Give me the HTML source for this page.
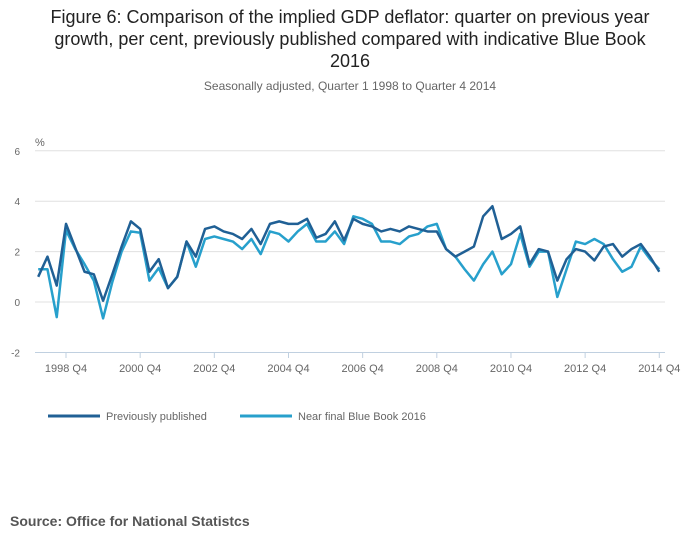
<!DOCTYPE html>
<html><head><meta charset="utf-8"><style>
body{margin:0;background:#fff;width:700px;height:549px;overflow:hidden;font-family:"Liberation Sans",sans-serif}
#title{position:absolute;left:0;top:6px;width:700px;text-align:center;font-size:18px;line-height:22px;color:#222;white-space:nowrap}
#sub{position:absolute;left:0;top:79px;width:700px;text-align:center;font-size:12px;color:#666}
#src{position:absolute;left:10px;top:513px;font-size:14px;font-weight:bold;color:#555}
svg{position:absolute;left:0;top:0}
</style></head><body>
<div id="title">Figure 6: Comparison of the implied GDP deflator: quarter on previous year<br>growth, per cent, previously published compared with indicative Blue Book<br>2016</div>
<div id="sub">Seasonally adjusted, Quarter 1 1998 to Quarter 4 2014</div>
<svg id="chart" width="700" height="549"></svg>
<div id="src">Source: Office for National Statistcs</div>
<script>
const yTicks=[-2,0,2,4,6];
const xTickLabels=["1998 Q4","2000 Q4","2002 Q4","2004 Q4","2006 Q4","2008 Q4","2010 Q4","2012 Q4","2014 Q4"];
const xTickIdx=[3,11,19,27,35,43,51,59,67];
const previous=[1.0,1.8,0.65,3.1, 2.15,1.2,1.1,0.05, 1.1,2.2,3.2,2.9, 1.2,1.7,0.55,1.0, 2.4,1.8,2.9,3.0, 2.8,2.7,2.5,2.9, 2.3,3.1,3.2,3.1, 3.1,3.3,2.55,2.7, 3.2,2.45,3.3,3.1, 3.0,2.8,2.9,2.8, 3.0,2.9,2.8,2.8, 2.1,1.8,2.0,2.2, 3.4,3.8,2.5,2.7, 3.0,1.5,2.1,2.0, 0.85,1.7,2.1,2.0, 1.65,2.2,2.3,1.8, 2.1,2.3,1.8,1.2];
const blueBook=[1.3,1.3,-0.6,2.85, 2.1,1.5,0.85,-0.65, 0.8,2.0,2.8,2.75, 0.85,1.35,0.55,1.0, 2.4,1.4,2.5,2.6, 2.5,2.4,2.1,2.5, 1.9,2.8,2.7,2.4, 2.8,3.1,2.4,2.4, 2.8,2.3,3.4,3.3, 3.1,2.4,2.4,2.3, 2.6,2.7,3.0,3.1, 2.1,1.8,1.3,0.85, 1.5,2.0,1.1,1.5, 2.7,1.4,2.0,2.0, 0.2,1.3,2.4,2.3, 2.5,2.3,1.7,1.2, 1.4,2.2,1.7,1.3];
const NS="http://www.w3.org/2000/svg";
const svg=document.getElementById('chart');
const x=i=>38.2+i*9.27;
const y=v=>302-v*25.2;
function mk(t,a){const e=document.createElementNS(NS,t);for(const k in a)e.setAttribute(k,a[k]);svg.appendChild(e);return e;}
yTicks.forEach(v=>{
 if(v>-2){const g=mk('line',{x1:35,x2:665,y1:y(v),y2:y(v),stroke:'#e0e0e0','stroke-width':1});
 
 }
 const t=mk('text',{x:20,y:y(v)+4,'font-size':10,fill:'#666','text-anchor':'end'});t.textContent=v;
 
 
});
const u=mk('text',{x:35,y:146,'font-size':11,fill:'#666'});u.textContent='%';


const ax=mk('line',{x1:35,x2:665,y1:352.5,y2:352.5,stroke:'#c0d0e0','stroke-width':1});


xTickIdx.forEach((q,k)=>{
 mk('line',{x1:x(q),x2:x(q),y1:352.5,y2:358,stroke:'#c0d0e0'});
 const t=mk('text',{x:x(q),y:372,'font-size':11,fill:'#666','text-anchor':'middle'});t.textContent=xTickLabels[k];
 
 
});
function series(vals,color,name){
 const p=mk('polyline',{points:vals.map((v,i)=>x(i)+','+y(v)).join(' '),fill:'none',stroke:color,'stroke-width':2.5,'stroke-linejoin':'round'});
 
 
}
series(blueBook,'#27a0cc','series-blue-book-2016');
series(previous,'#206095','series-previously-published');
function legend(lx,color,label,name){
 mk('line',{x1:lx,x2:lx+52,y1:416,y2:416,stroke:color,'stroke-width':3});
 const t=mk('text',{x:lx+58,y:420,'font-size':11,fill:'#666'});t.textContent=label;
 
 
}
legend(48,'#206095','Previously published','legend-previously-published');
legend(240,'#27a0cc','Near final Blue Book 2016','legend-blue-book-2016');
</script>
</body></html>
